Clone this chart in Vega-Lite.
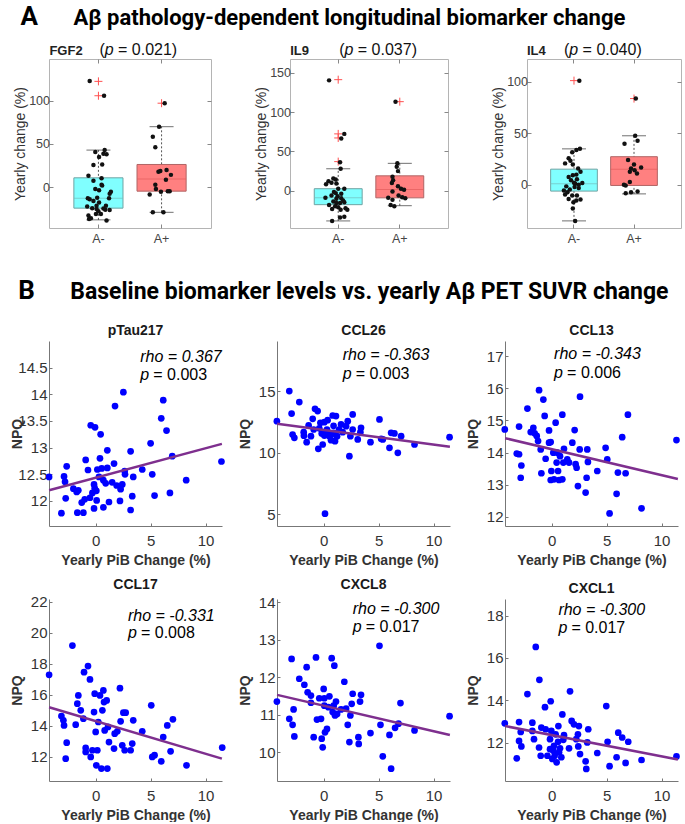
{
"$schema":"https://vega.github.io/schema/vega-lite/v6.json",
"padding":{"left":10,"top":4,"right":0,"bottom":0},
"background":"white",
"config":{"font":"Liberation Sans","view":{"stroke":null},"axis":{"grid":false,"labelFont":"Liberation Sans","titleFont":"Liberation Sans","labelOverlap":false}},
"datasets":{
"bstat":[
{"panel":"FGF2","g":"A-","lo":-37.6,"q1":-24.1,"med":-12.8,"q3":10.9,"hi":42.9},
{"panel":"FGF2","g":"A+","lo":-28.9,"q1":-4.5,"med":9.4,"q3":26.3,"hi":69.9},
{"panel":"IL9","g":"A-","lo":-38.4,"q1":-17.7,"med":-9,"q3":2.6,"hi":28},
{"panel":"IL9","g":"A+","lo":-19,"q1":-9,"med":1.7,"q3":19,"hi":34.9},
{"panel":"IL4","g":"A-","lo":-35.1,"q1":-6.2,"med":1,"q3":15.1,"hi":34.8},
{"panel":"IL4","g":"A+","lo":-8.9,"q1":-0.7,"med":15.1,"q3":27.2,"hi":47.5}],
"bout":[
{"panel":"FGF2","g":"A-","y":122.2},{"panel":"FGF2","g":"A-","y":105.6},{"panel":"FGF2","g":"A+","y":97},
{"panel":"IL9","g":"A-","y":141.4},{"panel":"IL9","g":"A-","y":72.4},{"panel":"IL9","g":"A-","y":67.2},{"panel":"IL9","g":"A-","y":37.1},{"panel":"IL9","g":"A+","y":113.4},
{"panel":"IL4","g":"A-","y":101},{"panel":"IL4","g":"A+","y":83.6}],
"blab":[{"panel":"FGF2","name":"FGF2","pv":"= 0.021)"},{"panel":"IL9","name":"IL9","pv":"= 0.037)"},{"panel":"IL4","name":"IL4","pv":"= 0.040)"}],
"bpts":[
{"panel":"FGF2","g":"A-","j":-0.14,"y":122.6},{"panel":"FGF2","g":"A-","j":0.09,"y":105.6},{"panel":"FGF2","g":"A-","j":0.1,"y":42.9},{"panel":"FGF2","g":"A-","j":-0.05,"y":40.6},{"panel":"FGF2","g":"A-","j":0.08,"y":38.7},{"panel":"FGF2","g":"A-","j":0.13,"y":38},{"panel":"FGF2","g":"A-","j":0.01,"y":35},{"panel":"FGF2","g":"A-","j":-0.08,"y":25.6},{"panel":"FGF2","g":"A-","j":0.06,"y":26.3},{"panel":"FGF2","g":"A-","j":-0.16,"y":13.2},{"panel":"FGF2","g":"A-","j":-0.08,"y":7.5},{"panel":"FGF2","g":"A-","j":0.05,"y":10.5},{"panel":"FGF2","g":"A-","j":0.05,"y":3},{"panel":"FGF2","g":"A-","j":0.06,"y":1.9},{"panel":"FGF2","g":"A-","j":0.2,"y":-5.3},{"panel":"FGF2","g":"A-","j":0.18,"y":-7.5},{"panel":"FGF2","g":"A-","j":-0.17,"y":-12.8},{"panel":"FGF2","g":"A-","j":-0.14,"y":-13.9},{"panel":"FGF2","g":"A-","j":-0.02,"y":-12},{"panel":"FGF2","g":"A-","j":-0.08,"y":-15.8},{"panel":"FGF2","g":"A-","j":0.01,"y":-17.7},{"panel":"FGF2","g":"A-","j":0.17,"y":-12.8},{"panel":"FGF2","g":"A-","j":-0.18,"y":-22.2},{"panel":"FGF2","g":"A-","j":-0.1,"y":-24.1},{"panel":"FGF2","g":"A-","j":-0.03,"y":-25.2},{"panel":"FGF2","g":"A-","j":0,"y":-27.8},{"panel":"FGF2","g":"A-","j":0.11,"y":-25.9},{"panel":"FGF2","g":"A-","j":0.18,"y":-26.3},{"panel":"FGF2","g":"A-","j":-0.04,"y":-30.8},{"panel":"FGF2","g":"A-","j":0.04,"y":-30.8},{"panel":"FGF2","g":"A-","j":-0.16,"y":-32.7},{"panel":"FGF2","g":"A-","j":-0.12,"y":-35.7},{"panel":"FGF2","g":"A-","j":-0.15,"y":-36.5},{"panel":"FGF2","g":"A-","j":0.13,"y":-38.3},{"panel":"FGF2","g":"A-","j":0.01,"y":-3.4},{"panel":"FGF2","g":"A-","j":-0.03,"y":-21.4},{"panel":"FGF2","g":"A-","j":0.08,"y":-24.4},{"panel":"FGF2","g":"A-","j":0.12,"y":-21.4},{"panel":"FGF2","g":"A-","j":-0.05,"y":-1.9},
{"panel":"FGF2","g":"A+","j":0.05,"y":97},{"panel":"FGF2","g":"A+","j":-0.04,"y":69.9},{"panel":"FGF2","g":"A+","j":-0.14,"y":58.3},{"panel":"FGF2","g":"A+","j":-0.1,"y":46.2},{"panel":"FGF2","g":"A+","j":-0.05,"y":18},{"panel":"FGF2","g":"A+","j":-0.02,"y":18.8},{"panel":"FGF2","g":"A+","j":0.08,"y":19.9},{"panel":"FGF2","g":"A+","j":0.15,"y":14.3},{"panel":"FGF2","g":"A+","j":0.07,"y":8.6},{"panel":"FGF2","g":"A+","j":-0.1,"y":3},{"panel":"FGF2","g":"A+","j":-0.09,"y":-1.9},{"panel":"FGF2","g":"A+","j":-0.01,"y":-5.3},{"panel":"FGF2","g":"A+","j":0.1,"y":-4.5},{"panel":"FGF2","g":"A+","j":0.13,"y":-4.5},{"panel":"FGF2","g":"A+","j":-0.19,"y":-8.3},{"panel":"FGF2","g":"A+","j":-0.14,"y":-28.9},{"panel":"FGF2","g":"A+","j":0.03,"y":-28.9},
{"panel":"IL9","g":"A-","j":-0.15,"y":140.5},{"panel":"IL9","g":"A-","j":0.1,"y":72.4},{"panel":"IL9","g":"A-","j":0.05,"y":66.4},{"panel":"IL9","g":"A-","j":0.03,"y":36.2},{"panel":"IL9","g":"A-","j":0.04,"y":28},{"panel":"IL9","g":"A-","j":-0.08,"y":15.5},{"panel":"IL9","g":"A-","j":-0.04,"y":14.2},{"panel":"IL9","g":"A-","j":-0.16,"y":12.1},{"panel":"IL9","g":"A-","j":-0.11,"y":10.3},{"panel":"IL9","g":"A-","j":-0.2,"y":8.2},{"panel":"IL9","g":"A-","j":-0.03,"y":9.1},{"panel":"IL9","g":"A-","j":0,"y":2.6},{"panel":"IL9","g":"A-","j":0.1,"y":2.6},{"panel":"IL9","g":"A-","j":-0.07,"y":-1.7},{"panel":"IL9","g":"A-","j":0.05,"y":-3.9},{"panel":"IL9","g":"A-","j":-0.21,"y":-9},{"panel":"IL9","g":"A-","j":-0.11,"y":-6},{"panel":"IL9","g":"A-","j":-0.01,"y":-6.9},{"panel":"IL9","g":"A-","j":0.05,"y":-9.5},{"panel":"IL9","g":"A-","j":0.08,"y":-12.5},{"panel":"IL9","g":"A-","j":-0.08,"y":-13.8},{"panel":"IL9","g":"A-","j":-0.03,"y":-15.5},{"panel":"IL9","g":"A-","j":0.03,"y":-15.5},{"panel":"IL9","g":"A-","j":0.1,"y":-14.7},{"panel":"IL9","g":"A-","j":-0.15,"y":-18.1},{"panel":"IL9","g":"A-","j":-0.05,"y":-19.8},{"panel":"IL9","g":"A-","j":0,"y":-21.1},{"panel":"IL9","g":"A-","j":0.12,"y":-22.4},{"panel":"IL9","g":"A-","j":-0.1,"y":-23.3},{"panel":"IL9","g":"A-","j":0.04,"y":-24.1},{"panel":"IL9","g":"A-","j":0.15,"y":-24.1},{"panel":"IL9","g":"A-","j":0.03,"y":-34.1},{"panel":"IL9","g":"A-","j":0.1,"y":-33.2},{"panel":"IL9","g":"A-","j":-0.1,"y":-38.4},{"panel":"IL9","g":"A-","j":-0.03,"y":-10.3},{"panel":"IL9","g":"A-","j":-0.04,"y":-3},
{"panel":"IL9","g":"A+","j":-0.07,"y":113.4},{"panel":"IL9","g":"A+","j":-0.04,"y":34.9},{"panel":"IL9","g":"A+","j":-0.05,"y":30.6},{"panel":"IL9","g":"A+","j":-0.03,"y":25},{"panel":"IL9","g":"A+","j":-0.12,"y":17.7},{"panel":"IL9","g":"A+","j":-0.11,"y":13.4},{"panel":"IL9","g":"A+","j":-0.13,"y":9.9},{"panel":"IL9","g":"A+","j":-0.03,"y":5.6},{"panel":"IL9","g":"A+","j":0.02,"y":2.6},{"panel":"IL9","g":"A+","j":-0.12,"y":-0.9},{"panel":"IL9","g":"A+","j":0.07,"y":1.3},{"panel":"IL9","g":"A+","j":-0.02,"y":-6},{"panel":"IL9","g":"A+","j":0.09,"y":-9.5},{"panel":"IL9","g":"A+","j":0.04,"y":-8.2},{"panel":"IL9","g":"A+","j":-0.19,"y":-9},{"panel":"IL9","g":"A+","j":-0.15,"y":-18.1},{"panel":"IL9","g":"A+","j":-0.09,"y":-19.8},{"panel":"IL9","g":"A+","j":-0.12,"y":-11.6},
{"panel":"IL4","g":"A-","j":0.09,"y":101},{"panel":"IL4","g":"A-","j":0.1,"y":34.8},{"panel":"IL4","g":"A-","j":0.04,"y":33.8},{"panel":"IL4","g":"A-","j":-0.03,"y":31.5},{"panel":"IL4","g":"A-","j":-0.09,"y":25.6},{"panel":"IL4","g":"A-","j":-0.06,"y":23.3},{"panel":"IL4","g":"A-","j":-0.15,"y":20.7},{"panel":"IL4","g":"A-","j":-0.02,"y":19.7},{"panel":"IL4","g":"A-","j":0.07,"y":15.7},{"panel":"IL4","g":"A-","j":0.11,"y":12.5},{"panel":"IL4","g":"A-","j":0.04,"y":9.8},{"panel":"IL4","g":"A-","j":-0.02,"y":9.2},{"panel":"IL4","g":"A-","j":-0.09,"y":7.5},{"panel":"IL4","g":"A-","j":-0.05,"y":4.3},{"panel":"IL4","g":"A-","j":0.05,"y":5.2},{"panel":"IL4","g":"A-","j":0,"y":2},{"panel":"IL4","g":"A-","j":0.02,"y":1},{"panel":"IL4","g":"A-","j":0.14,"y":1.6},{"panel":"IL4","g":"A-","j":0.08,"y":0},{"panel":"IL4","g":"A-","j":-0.13,"y":-1.6},{"panel":"IL4","g":"A-","j":0.01,"y":-2.3},{"panel":"IL4","g":"A-","j":0.08,"y":-3.3},{"panel":"IL4","g":"A-","j":-0.07,"y":-4.6},{"panel":"IL4","g":"A-","j":-0.17,"y":-5.6},{"panel":"IL4","g":"A-","j":-0.11,"y":-7.2},{"panel":"IL4","g":"A-","j":-0.15,"y":-9.5},{"panel":"IL4","g":"A-","j":-0.03,"y":-10.5},{"panel":"IL4","g":"A-","j":0.05,"y":-10.5},{"panel":"IL4","g":"A-","j":0.11,"y":-14.4},{"panel":"IL4","g":"A-","j":-0.09,"y":-13.8},{"panel":"IL4","g":"A-","j":-0.01,"y":-17},{"panel":"IL4","g":"A-","j":0.04,"y":-15.4},{"panel":"IL4","g":"A-","j":-0.02,"y":-23},{"panel":"IL4","g":"A-","j":0.02,"y":-35.1},
{"panel":"IL4","g":"A+","j":0.03,"y":83.6},{"panel":"IL4","g":"A+","j":0.02,"y":47.5},{"panel":"IL4","g":"A+","j":0.06,"y":42.6},{"panel":"IL4","g":"A+","j":-0.16,"y":39.7},{"panel":"IL4","g":"A+","j":-0.1,"y":23.9},{"panel":"IL4","g":"A+","j":0,"y":19.7},{"panel":"IL4","g":"A+","j":-0.05,"y":15.7},{"panel":"IL4","g":"A+","j":0.01,"y":14.1},{"panel":"IL4","g":"A+","j":0.12,"y":16.7},{"panel":"IL4","g":"A+","j":-0.07,"y":12.5},{"panel":"IL4","g":"A+","j":0.05,"y":10.8},{"panel":"IL4","g":"A+","j":-0.07,"y":2.6},{"panel":"IL4","g":"A+","j":-0.17,"y":0},{"panel":"IL4","g":"A+","j":-0.14,"y":-0.7},{"panel":"IL4","g":"A+","j":-0.05,"y":-7.2},{"panel":"IL4","g":"A+","j":0.06,"y":-6.6},{"panel":"IL4","g":"A+","j":-0.14,"y":-8.2}],
"fit":[
{"p":"pTau217","x":-4.24,"y":12.2},{"p":"pTau217","x":11.49,"y":13.07},
{"p":"CCL26","x":-4.24,"y":12.36},{"p":"CCL26","x":11.49,"y":10.49},
{"p":"CCL13","x":-4.24,"y":14.45},{"p":"CCL13","x":11.49,"y":13.18},
{"p":"CCL17","x":-4.24,"y":15.2},{"p":"CCL17","x":11.49,"y":11.89},
{"p":"CXCL8","x":-4.24,"y":11.53},{"p":"CXCL8","x":11.49,"y":10.46},
{"p":"CXCL1","x":-4.24,"y":12.79},{"p":"CXCL1","x":11.49,"y":11.21}],
"st":[
{"p":"pTau217","rho":"rho = 0.367","pv":"= 0.003"},
{"p":"CCL26","rho":"rho = -0.363","pv":"= 0.003"},
{"p":"CCL13","rho":"rho = -0.343","pv":"= 0.006"},
{"p":"CCL17","rho":"rho = -0.331","pv":"= 0.008"},
{"p":"CXCL8","rho":"rho = -0.300","pv":"= 0.017"},
{"p":"CXCL1","rho":"rho = -0.300","pv":"= 0.017"}],
"sc":[
{"p":"pTau217","x":-4.24,"y":12.45},{"p":"pTau217","x":-3.12,"y":11.77},{"p":"pTau217","x":-2.88,"y":12.46},{"p":"pTau217","x":-2.79,"y":12.36},{"p":"pTau217","x":-2.64,"y":12.65},{"p":"pTau217","x":-2.73,"y":12.05},{"p":"pTau217","x":-2.03,"y":12.23},{"p":"pTau217","x":-1.73,"y":12.17},{"p":"pTau217","x":-1.67,"y":11.78},{"p":"pTau217","x":-1.58,"y":12.2},{"p":"pTau217","x":-1.27,"y":11.97},{"p":"pTau217","x":-1.12,"y":11.78},{"p":"pTau217","x":-0.91,"y":12.77},{"p":"pTau217","x":-1,"y":12.03},{"p":"pTau217","x":-0.7,"y":12.58},{"p":"pTau217","x":-0.52,"y":12.06},{"p":"pTau217","x":-0.45,"y":13.42},{"p":"pTau217","x":-0.06,"y":13.38},{"p":"pTau217","x":-0.15,"y":12.31},{"p":"pTau217","x":-0.09,"y":12.24},{"p":"pTau217","x":-0.15,"y":11.86},{"p":"pTau217","x":0.06,"y":12.19},{"p":"pTau217","x":0.09,"y":12.01},{"p":"pTau217","x":0.15,"y":12.59},{"p":"pTau217","x":0.45,"y":13.25},{"p":"pTau217","x":0.39,"y":12.8},{"p":"pTau217","x":0.55,"y":12.61},{"p":"pTau217","x":0.7,"y":11.88},{"p":"pTau217","x":0.91,"y":12.33},{"p":"pTau217","x":1.06,"y":12.95},{"p":"pTau217","x":1.06,"y":12.62},{"p":"pTau217","x":1.21,"y":11.98},{"p":"pTau217","x":1.67,"y":12.7},{"p":"pTau217","x":1.76,"y":13.78},{"p":"pTau217","x":1.91,"y":12.29},{"p":"pTau217","x":2.21,"y":12},{"p":"pTau217","x":2.27,"y":12.22},{"p":"pTau217","x":2.42,"y":12.31},{"p":"pTau217","x":2.52,"y":14.04},{"p":"pTau217","x":2.64,"y":12.56},{"p":"pTau217","x":2.67,"y":12.5},{"p":"pTau217","x":3.18,"y":12.93},{"p":"pTau217","x":3.18,"y":11.83},{"p":"pTau217","x":3.33,"y":12.09},{"p":"pTau217","x":3.42,"y":12.45},{"p":"pTau217","x":4.24,"y":12.59},{"p":"pTau217","x":5,"y":13.08},{"p":"pTau217","x":5.15,"y":12.5},{"p":"pTau217","x":5.36,"y":12.1},{"p":"pTau217","x":5.97,"y":13.55},{"p":"pTau217","x":6.15,"y":13.89},{"p":"pTau217","x":6.45,"y":13.32},{"p":"pTau217","x":6.76,"y":12.15},{"p":"pTau217","x":6.97,"y":12.84},{"p":"pTau217","x":8.24,"y":12.39},{"p":"pTau217","x":11.45,"y":12.74},{"p":"pTau217","x":0.7,"y":12.39},{"p":"pTau217","x":0.3,"y":12.45},{"p":"pTau217","x":-0.3,"y":12.15},{"p":"pTau217","x":1.5,"y":12.35},
{"p":"CCL26","x":-4.26,"y":12.58},{"p":"CCL26","x":-3.13,"y":15.03},{"p":"CCL26","x":-2.92,"y":13.2},{"p":"CCL26","x":-2.83,"y":11.49},{"p":"CCL26","x":-2.67,"y":11.22},{"p":"CCL26","x":-2.22,"y":14.13},{"p":"CCL26","x":-1.82,"y":11.68},{"p":"CCL26","x":-1.55,"y":10.87},{"p":"CCL26","x":-1.37,"y":12.23},{"p":"CCL26","x":-1.16,"y":11.36},{"p":"CCL26","x":-1,"y":12.77},{"p":"CCL26","x":-0.91,"y":11.9},{"p":"CCL26","x":-0.79,"y":13.59},{"p":"CCL26","x":-0.55,"y":13.4},{"p":"CCL26","x":-0.49,"y":10.33},{"p":"CCL26","x":-0.3,"y":12.45},{"p":"CCL26","x":-0.18,"y":11.58},{"p":"CCL26","x":-0.09,"y":10.68},{"p":"CCL26","x":0.06,"y":12.5},{"p":"CCL26","x":0.06,"y":11.41},{"p":"CCL26","x":0.12,"y":5.05},{"p":"CCL26","x":0.3,"y":11.9},{"p":"CCL26","x":0.36,"y":12.66},{"p":"CCL26","x":0.52,"y":11.36},{"p":"CCL26","x":0.67,"y":11.03},{"p":"CCL26","x":0.82,"y":13.04},{"p":"CCL26","x":0.91,"y":11.63},{"p":"CCL26","x":1.03,"y":10.95},{"p":"CCL26","x":1.12,"y":12.99},{"p":"CCL26","x":1.22,"y":11.36},{"p":"CCL26","x":1.58,"y":12.31},{"p":"CCL26","x":1.73,"y":11.68},{"p":"CCL26","x":2.04,"y":12.17},{"p":"CCL26","x":2.19,"y":12.58},{"p":"CCL26","x":2.34,"y":9.73},{"p":"CCL26","x":2.43,"y":11.36},{"p":"CCL26","x":2.64,"y":13.13},{"p":"CCL26","x":2.64,"y":11.9},{"p":"CCL26","x":3.1,"y":11.09},{"p":"CCL26","x":3.34,"y":11.68},{"p":"CCL26","x":3.4,"y":12.04},{"p":"CCL26","x":4.26,"y":10.87},{"p":"CCL26","x":5.08,"y":12.72},{"p":"CCL26","x":5.23,"y":11.14},{"p":"CCL26","x":5.38,"y":11.09},{"p":"CCL26","x":5.99,"y":10.41},{"p":"CCL26","x":6.14,"y":11.63},{"p":"CCL26","x":6.44,"y":11.58},{"p":"CCL26","x":6.75,"y":10},{"p":"CCL26","x":7.05,"y":11.36},{"p":"CCL26","x":8.27,"y":10.68},{"p":"CCL26","x":11.46,"y":11.28},{"p":"CCL26","x":0.7,"y":11.5},{"p":"CCL26","x":0.2,"y":11.7},{"p":"CCL26","x":-0.4,"y":12},{"p":"CCL26","x":1.4,"y":11.9},{"p":"CCL26","x":0.9,"y":12.2},{"p":"CCL26","x":-1.8,"y":11.4},
{"p":"CCL13","x":-4.27,"y":14.72},{"p":"CCL13","x":-3.18,"y":13.97},{"p":"CCL13","x":-2.97,"y":13.95},{"p":"CCL13","x":-2.97,"y":14.81},{"p":"CCL13","x":-2.76,"y":13.6},{"p":"CCL13","x":-2.82,"y":13.22},{"p":"CCL13","x":-2.21,"y":15.37},{"p":"CCL13","x":-1.91,"y":14.64},{"p":"CCL13","x":-1.67,"y":14.77},{"p":"CCL13","x":-1.55,"y":14.6},{"p":"CCL13","x":-1.36,"y":14.52},{"p":"CCL13","x":-1.15,"y":15.94},{"p":"CCL13","x":-1.24,"y":14.36},{"p":"CCL13","x":-1,"y":14.1},{"p":"CCL13","x":-0.94,"y":13.36},{"p":"CCL13","x":-0.76,"y":15.65},{"p":"CCL13","x":-0.64,"y":15.14},{"p":"CCL13","x":-0.55,"y":13.81},{"p":"CCL13","x":-0.24,"y":14.69},{"p":"CCL13","x":-0.24,"y":14.31},{"p":"CCL13","x":-0.09,"y":14.33},{"p":"CCL13","x":-0.03,"y":13.43},{"p":"CCL13","x":-0.09,"y":13.15},{"p":"CCL13","x":0.15,"y":14},{"p":"CCL13","x":0.21,"y":13.17},{"p":"CCL13","x":0.36,"y":14.93},{"p":"CCL13","x":0.45,"y":13.69},{"p":"CCL13","x":0.52,"y":14},{"p":"CCL13","x":0.58,"y":13.43},{"p":"CCL13","x":0.67,"y":13.15},{"p":"CCL13","x":0.76,"y":13.89},{"p":"CCL13","x":0.97,"y":15.18},{"p":"CCL13","x":1.06,"y":13.69},{"p":"CCL13","x":1.12,"y":14.12},{"p":"CCL13","x":0.97,"y":13.17},{"p":"CCL13","x":1.42,"y":13.79},{"p":"CCL13","x":1.58,"y":13.69},{"p":"CCL13","x":1.88,"y":14.31},{"p":"CCL13","x":2.09,"y":14.7},{"p":"CCL13","x":2.18,"y":13.64},{"p":"CCL13","x":2.27,"y":13.53},{"p":"CCL13","x":2.39,"y":12.96},{"p":"CCL13","x":2.55,"y":14.1},{"p":"CCL13","x":2.58,"y":15.74},{"p":"CCL13","x":3.09,"y":12.76},{"p":"CCL13","x":3.18,"y":13.22},{"p":"CCL13","x":3.24,"y":14.1},{"p":"CCL13","x":3.3,"y":13.71},{"p":"CCL13","x":4.15,"y":13.43},{"p":"CCL13","x":4.91,"y":14.15},{"p":"CCL13","x":5.06,"y":13.79},{"p":"CCL13","x":5.27,"y":12.11},{"p":"CCL13","x":5.91,"y":12.72},{"p":"CCL13","x":6.03,"y":13.38},{"p":"CCL13","x":6.42,"y":14.48},{"p":"CCL13","x":6.73,"y":13.36},{"p":"CCL13","x":6.94,"y":15.18},{"p":"CCL13","x":8.18,"y":12.27},{"p":"CCL13","x":11.36,"y":14.39},
{"p":"CCL17","x":-4.24,"y":17.29},{"p":"CCL17","x":-3.12,"y":14.63},{"p":"CCL17","x":-2.94,"y":14.36},{"p":"CCL17","x":-2.88,"y":14.03},{"p":"CCL17","x":-2.64,"y":12.92},{"p":"CCL17","x":-2.73,"y":11.89},{"p":"CCL17","x":-2.12,"y":19.17},{"p":"CCL17","x":-1.82,"y":14.08},{"p":"CCL17","x":-1.67,"y":15.43},{"p":"CCL17","x":-1.58,"y":15.96},{"p":"CCL17","x":-1.36,"y":15},{"p":"CCL17","x":-1.12,"y":14.46},{"p":"CCL17","x":-1.06,"y":17.46},{"p":"CCL17","x":-0.91,"y":12.58},{"p":"CCL17","x":-0.91,"y":12.32},{"p":"CCL17","x":-0.7,"y":17.85},{"p":"CCL17","x":-0.52,"y":16.99},{"p":"CCL17","x":-0.45,"y":12},{"p":"CCL17","x":-0.3,"y":12.43},{"p":"CCL17","x":-0.15,"y":14.89},{"p":"CCL17","x":-0.09,"y":16.07},{"p":"CCL17","x":0,"y":13.61},{"p":"CCL17","x":0.06,"y":11.46},{"p":"CCL17","x":0.15,"y":12.43},{"p":"CCL17","x":0.24,"y":14.25},{"p":"CCL17","x":0.39,"y":15.96},{"p":"CCL17","x":0.52,"y":11.25},{"p":"CCL17","x":0.61,"y":15},{"p":"CCL17","x":0.7,"y":16.28},{"p":"CCL17","x":0.76,"y":15.53},{"p":"CCL17","x":0.82,"y":13.71},{"p":"CCL17","x":1,"y":15.64},{"p":"CCL17","x":1.06,"y":11.25},{"p":"CCL17","x":1.12,"y":13.93},{"p":"CCL17","x":1.21,"y":12.96},{"p":"CCL17","x":1.67,"y":12.54},{"p":"CCL17","x":1.73,"y":13.5},{"p":"CCL17","x":1.97,"y":13.65},{"p":"CCL17","x":2.21,"y":16.43},{"p":"CCL17","x":2.27,"y":14.29},{"p":"CCL17","x":2.42,"y":12.75},{"p":"CCL17","x":2.52,"y":14.85},{"p":"CCL17","x":2.73,"y":14.85},{"p":"CCL17","x":2.64,"y":12.43},{"p":"CCL17","x":3.18,"y":12.43},{"p":"CCL17","x":3.33,"y":12.86},{"p":"CCL17","x":3.42,"y":14.36},{"p":"CCL17","x":4.24,"y":13.65},{"p":"CCL17","x":5.06,"y":15.32},{"p":"CCL17","x":5.15,"y":12},{"p":"CCL17","x":5.36,"y":12.11},{"p":"CCL17","x":5.97,"y":11.72},{"p":"CCL17","x":6.15,"y":13.28},{"p":"CCL17","x":6.52,"y":14.03},{"p":"CCL17","x":6.82,"y":12.36},{"p":"CCL17","x":7.03,"y":14.42},{"p":"CCL17","x":8.27,"y":11.46},{"p":"CCL17","x":11.52,"y":12.6},
{"p":"CXCL8","x":-4.26,"y":11.35},{"p":"CXCL8","x":-3.13,"y":10.89},{"p":"CXCL8","x":-2.92,"y":12.49},{"p":"CXCL8","x":-2.83,"y":10.73},{"p":"CXCL8","x":-2.74,"y":11.14},{"p":"CXCL8","x":-2.67,"y":10.42},{"p":"CXCL8","x":-2.22,"y":11.96},{"p":"CXCL8","x":-1.76,"y":11.8},{"p":"CXCL8","x":-1.55,"y":12.27},{"p":"CXCL8","x":-1.46,"y":11.6},{"p":"CXCL8","x":-1.16,"y":11.51},{"p":"CXCL8","x":-1.16,"y":11.32},{"p":"CXCL8","x":-0.91,"y":10.4},{"p":"CXCL8","x":-0.7,"y":12.53},{"p":"CXCL8","x":-0.61,"y":10.87},{"p":"CXCL8","x":-0.4,"y":11.44},{"p":"CXCL8","x":-0.24,"y":10.89},{"p":"CXCL8","x":-0.18,"y":10.36},{"p":"CXCL8","x":-0.09,"y":10.13},{"p":"CXCL8","x":0,"y":11.69},{"p":"CXCL8","x":0.06,"y":11.44},{"p":"CXCL8","x":0.06,"y":11.24},{"p":"CXCL8","x":0.12,"y":10.53},{"p":"CXCL8","x":0.3,"y":10.62},{"p":"CXCL8","x":0.43,"y":11.2},{"p":"CXCL8","x":0.52,"y":11.49},{"p":"CXCL8","x":0.73,"y":12.51},{"p":"CXCL8","x":0.82,"y":11.07},{"p":"CXCL8","x":0.91,"y":11.24},{"p":"CXCL8","x":0.97,"y":12.31},{"p":"CXCL8","x":1.03,"y":10.98},{"p":"CXCL8","x":1.12,"y":11.35},{"p":"CXCL8","x":1.22,"y":11.02},{"p":"CXCL8","x":1.58,"y":11.14},{"p":"CXCL8","x":1.88,"y":11.88},{"p":"CXCL8","x":2.04,"y":11.16},{"p":"CXCL8","x":2.19,"y":10.73},{"p":"CXCL8","x":2.34,"y":10.27},{"p":"CXCL8","x":2.43,"y":10.98},{"p":"CXCL8","x":2.55,"y":11.29},{"p":"CXCL8","x":2.64,"y":11.56},{"p":"CXCL8","x":3.16,"y":10.4},{"p":"CXCL8","x":3.19,"y":10.22},{"p":"CXCL8","x":3.31,"y":11.35},{"p":"CXCL8","x":3.4,"y":11.53},{"p":"CXCL8","x":4.26,"y":10.51},{"p":"CXCL8","x":5.08,"y":12.84},{"p":"CXCL8","x":5.17,"y":10.73},{"p":"CXCL8","x":5.38,"y":9.89},{"p":"CXCL8","x":5.99,"y":10.46},{"p":"CXCL8","x":6.14,"y":9.56},{"p":"CXCL8","x":6.5,"y":10.65},{"p":"CXCL8","x":6.81,"y":10.76},{"p":"CXCL8","x":6.99,"y":11.31},{"p":"CXCL8","x":8.27,"y":10.58},{"p":"CXCL8","x":11.46,"y":10.96},
{"p":"CXCL1","x":-4.27,"y":12.92},{"p":"CXCL1","x":-3.18,"y":11.27},{"p":"CXCL1","x":-2.97,"y":12.98},{"p":"CXCL1","x":-2.97,"y":12.09},{"p":"CXCL1","x":-2.82,"y":12.51},{"p":"CXCL1","x":-2.76,"y":11.83},{"p":"CXCL1","x":-2.21,"y":14.3},{"p":"CXCL1","x":-1.76,"y":12.95},{"p":"CXCL1","x":-1.76,"y":12.56},{"p":"CXCL1","x":-1.61,"y":12.17},{"p":"CXCL1","x":-1.45,"y":16.52},{"p":"CXCL1","x":-1.15,"y":11.78},{"p":"CXCL1","x":-1.12,"y":14.97},{"p":"CXCL1","x":-1,"y":11.39},{"p":"CXCL1","x":-0.94,"y":12.72},{"p":"CXCL1","x":-0.61,"y":13.68},{"p":"CXCL1","x":-0.55,"y":12.64},{"p":"CXCL1","x":-0.39,"y":11.39},{"p":"CXCL1","x":-0.09,"y":13.96},{"p":"CXCL1","x":-0.15,"y":12.17},{"p":"CXCL1","x":-0.03,"y":12.56},{"p":"CXCL1","x":-0.15,"y":11.7},{"p":"CXCL1","x":0.06,"y":11.24},{"p":"CXCL1","x":0.15,"y":11.63},{"p":"CXCL1","x":0.21,"y":11.86},{"p":"CXCL1","x":0.27,"y":11.39},{"p":"CXCL1","x":0.36,"y":12.4},{"p":"CXCL1","x":0.45,"y":11.08},{"p":"CXCL1","x":0.58,"y":12.05},{"p":"CXCL1","x":0.61,"y":12.79},{"p":"CXCL1","x":0.67,"y":11.55},{"p":"CXCL1","x":0.76,"y":11.74},{"p":"CXCL1","x":0.88,"y":11.32},{"p":"CXCL1","x":0.97,"y":13.34},{"p":"CXCL1","x":1.06,"y":12.14},{"p":"CXCL1","x":1.12,"y":12.36},{"p":"CXCL1","x":1.58,"y":11.74},{"p":"CXCL1","x":1.67,"y":14.43},{"p":"CXCL1","x":1.82,"y":13.03},{"p":"CXCL1","x":2.03,"y":12.87},{"p":"CXCL1","x":2.24,"y":12.17},{"p":"CXCL1","x":2.39,"y":12.4},{"p":"CXCL1","x":2.42,"y":11.83},{"p":"CXCL1","x":2.58,"y":11.47},{"p":"CXCL1","x":3.09,"y":11.13},{"p":"CXCL1","x":3.15,"y":10.77},{"p":"CXCL1","x":3.24,"y":12.02},{"p":"CXCL1","x":3.33,"y":12.64},{"p":"CXCL1","x":4.15,"y":11.52},{"p":"CXCL1","x":4.97,"y":13.73},{"p":"CXCL1","x":5.09,"y":12.05},{"p":"CXCL1","x":5.27,"y":10.9},{"p":"CXCL1","x":5.91,"y":11.32},{"p":"CXCL1","x":6.06,"y":12.48},{"p":"CXCL1","x":6.42,"y":12.25},{"p":"CXCL1","x":6.73,"y":11.05},{"p":"CXCL1","x":6.97,"y":12.05},{"p":"CXCL1","x":8.18,"y":11.19},{"p":"CXCL1","x":11.36,"y":11.36},{"p":"CXCL1","x":2.48,"y":12.79}]
},
"vconcat":[
{"title":{"text":"A","anchor":"start","font":"Roboto","fontSize":26,"fontWeight":"bold","color":"black","offset":0,"dx":8,"dy":22.8},
 "vconcat":[
{"title":{"text":"Aβ pathology-dependent longitudinal biomarker change","anchor":"start","font":"Roboto","fontSize":22,"fontWeight":"bold","color":"black","offset":11,"dx":61},
 "spacing":79,"bounds":"flush",
 "hconcat":[
 {"width":162,"height":169,"view":{"stroke":"#b4b4b4"},"resolve":{"axis":{"x":"independent","y":"independent"},"scale":{"xOffset":"independent"}},
  "layer":[
   {"data":{"name":"bstat"},"transform":[{"filter":"datum.panel==='FGF2'"}],"mark":{"type":"rule","strokeDash":[2,2],"color":"#555","strokeWidth":1},
    "encoding":{"x":{"field":"g","type":"nominal","scale":{"type":"band","domain":["A-","A+"],"paddingInner":0.222,"paddingOuter":0.394},"axis":{"orient":"top","labels":false,"title":null,"domain":false,"tickSize":-4,"tickColor":"#888"}},
     "y":{"field":"lo","type":"quantitative","scale":{"domain":[-47,148],"nice":false,"zero":false},"axis":{"orient":"right","labels":false,"title":null,"domain":false,"tickSize":-4,"tickColor":"#888","values":[0,50,100],"tickCount":12}},"y2":{"field":"hi"}}},
   {"data":{"name":"bstat"},"transform":[{"filter":"datum.panel==='FGF2'"}],"mark":{"type":"bar","strokeWidth":1},
    "encoding":{"x":{"field":"g","type":"nominal","axis":{"orient":"bottom","title":null,"labelAngle":0,"domain":false,"tickSize":-4,"tickColor":"#888","labelPadding":8,"labelFontSize":12.5,"labelColor":"#444"}},
     "y":{"field":"q1","type":"quantitative","axis":{"orient":"left","values":[0,50,100],"tickCount":12,"format":"d","labelOverlap":false,"title":"Yearly change (%)","titleFontSize":14,"titleFontWeight":"normal","titleColor":"#333","titlePadding":1.6,"domain":false,"tickSize":-4,"tickColor":"#888","labelPadding":3.5,"labelFontSize":12.5,"labelColor":"#444"}},
     "y2":{"field":"q3"},
     "fill":{"condition":{"test":"datum.g==='A-'","value":"#80ffff"},"value":"#ff8080"},
     "stroke":{"condition":{"test":"datum.g==='A-'","value":"#6fa3a3"},"value":"#b06464"}}},
   {"data":{"name":"bstat"},"transform":[{"filter":"datum.panel==='FGF2'"}],"mark":{"type":"tick","orient":"horizontal","size":49,"thickness":1},
    "encoding":{"x":{"field":"g","type":"nominal","axis":null},"y":{"field":"med","type":"quantitative","axis":null},"color":{"condition":{"test":"datum.g==='A-'","value":"#74bcbc"},"value":"#e35d5d"}}},
   {"data":{"name":"bstat"},"transform":[{"filter":"datum.panel==='FGF2'"}],"mark":{"type":"tick","orient":"horizontal","size":24,"thickness":1,"color":"#333"},
    "encoding":{"x":{"field":"g","type":"nominal","axis":null},"y":{"field":"lo","type":"quantitative","axis":null}}},
   {"data":{"name":"bstat"},"transform":[{"filter":"datum.panel==='FGF2'"}],"mark":{"type":"tick","orient":"horizontal","size":24,"thickness":1,"color":"#333"},
    "encoding":{"x":{"field":"g","type":"nominal","axis":null},"y":{"field":"hi","type":"quantitative","axis":null}}},
   {"data":{"name":"bout"},"transform":[{"filter":"datum.panel==='FGF2'"}],"mark":{"type":"point","shape":"M-1,0L1,0M0,-1L0,1","filled":false,"stroke":"#ff5050","strokeWidth":1,"size":64,"opacity":1},
    "encoding":{"x":{"field":"g","type":"nominal","axis":null},"y":{"field":"y","type":"quantitative","axis":null}}},
   {"data":{"name":"bpts"},"transform":[{"filter":"datum.panel==='FGF2'"}],"mark":{"type":"circle","color":"#111","size":20,"opacity":1},
    "encoding":{"x":{"field":"g","type":"nominal","axis":null},"xOffset":{"field":"j","type":"quantitative","scale":{"domain":[-0.3935,0.3935],"nice":false,"zero":false}},"y":{"field":"y","type":"quantitative","axis":null}}},
   {"data":{"name":"blab"},"transform":[{"filter":"datum.panel==='FGF2'"}],"mark":{"type":"text","align":"left","baseline":"alphabetic","fontSize":13,"fontWeight":"bold","color":"#222","dx":-49},
    "encoding":{"x":{"datum":"A-","type":"nominal","axis":null},"y":{"datum":152.6,"type":"quantitative","axis":null},"text":{"field":"name"}}},
   {"data":{"name":"blab"},"transform":[{"filter":"datum.panel==='FGF2'"}],"mark":{"type":"text","align":"left","baseline":"alphabetic","fontSize":16,"color":"#111","dx":1},
    "encoding":{"x":{"datum":"A-","type":"nominal","axis":null},"y":{"datum":152.6,"type":"quantitative","axis":null},"text":{"value":"("}}},
   {"data":{"name":"blab"},"transform":[{"filter":"datum.panel==='FGF2'"}],"mark":{"type":"text","align":"left","baseline":"alphabetic","fontSize":16,"fontStyle":"italic","color":"#111","dx":6.3},
    "encoding":{"x":{"datum":"A-","type":"nominal","axis":null},"y":{"datum":152.6,"type":"quantitative","axis":null},"text":{"value":"p"}}},
   {"data":{"name":"blab"},"transform":[{"filter":"datum.panel==='FGF2'"}],"mark":{"type":"text","align":"left","baseline":"alphabetic","fontSize":16,"color":"#111","dx":19.6},
    "encoding":{"x":{"datum":"A-","type":"nominal","axis":null},"y":{"datum":152.6,"type":"quantitative","axis":null},"text":{"field":"pv"}}}
  ]},
 {"width":158,"height":169,"view":{"stroke":"#b4b4b4"},"resolve":{"axis":{"x":"independent","y":"independent"},"scale":{"xOffset":"independent"}},
  "layer":[
   {"data":{"name":"bstat"},"transform":[{"filter":"datum.panel==='IL9'"}],"mark":{"type":"rule","strokeDash":[2,2],"color":"#555","strokeWidth":1},
    "encoding":{"x":{"field":"g","type":"nominal","scale":{"type":"band","domain":["A-","A+"],"paddingInner":0.222,"paddingOuter":0.394},"axis":{"orient":"top","labels":false,"title":null,"domain":false,"tickSize":-4,"tickColor":"#888"}},
     "y":{"field":"lo","type":"quantitative","scale":{"domain":[-47.4,167.7],"nice":false,"zero":false},"axis":{"orient":"right","labels":false,"title":null,"domain":false,"tickSize":-4,"tickColor":"#888","values":[0,50,100,150],"tickCount":12}},"y2":{"field":"hi"}}},
   {"data":{"name":"bstat"},"transform":[{"filter":"datum.panel==='IL9'"}],"mark":{"type":"bar","strokeWidth":1},
    "encoding":{"x":{"field":"g","type":"nominal","axis":{"orient":"bottom","title":null,"labelAngle":0,"domain":false,"tickSize":-4,"tickColor":"#888","labelPadding":8,"labelFontSize":12.5,"labelColor":"#444"}},
     "y":{"field":"q1","type":"quantitative","axis":{"orient":"left","values":[0,50,100,150],"tickCount":12,"format":"d","labelOverlap":false,"title":"Yearly change (%)","titleFontSize":14,"titleFontWeight":"normal","titleColor":"#333","titlePadding":1.6,"domain":false,"tickSize":-4,"tickColor":"#888","labelPadding":3.5,"labelFontSize":12.5,"labelColor":"#444"}},
     "y2":{"field":"q3"},
     "fill":{"condition":{"test":"datum.g==='A-'","value":"#80ffff"},"value":"#ff8080"},
     "stroke":{"condition":{"test":"datum.g==='A-'","value":"#6fa3a3"},"value":"#b06464"}}},
   {"data":{"name":"bstat"},"transform":[{"filter":"datum.panel==='IL9'"}],"mark":{"type":"tick","orient":"horizontal","size":48,"thickness":1},
    "encoding":{"x":{"field":"g","type":"nominal","axis":null},"y":{"field":"med","type":"quantitative","axis":null},"color":{"condition":{"test":"datum.g==='A-'","value":"#74bcbc"},"value":"#e35d5d"}}},
   {"data":{"name":"bstat"},"transform":[{"filter":"datum.panel==='IL9'"}],"mark":{"type":"tick","orient":"horizontal","size":24,"thickness":1,"color":"#333"},
    "encoding":{"x":{"field":"g","type":"nominal","axis":null},"y":{"field":"lo","type":"quantitative","axis":null}}},
   {"data":{"name":"bstat"},"transform":[{"filter":"datum.panel==='IL9'"}],"mark":{"type":"tick","orient":"horizontal","size":24,"thickness":1,"color":"#333"},
    "encoding":{"x":{"field":"g","type":"nominal","axis":null},"y":{"field":"hi","type":"quantitative","axis":null}}},
   {"data":{"name":"bout"},"transform":[{"filter":"datum.panel==='IL9'"}],"mark":{"type":"point","shape":"M-1,0L1,0M0,-1L0,1","filled":false,"stroke":"#ff5050","strokeWidth":1,"size":64,"opacity":1},
    "encoding":{"x":{"field":"g","type":"nominal","axis":null},"y":{"field":"y","type":"quantitative","axis":null}}},
   {"data":{"name":"bpts"},"transform":[{"filter":"datum.panel==='IL9'"}],"mark":{"type":"circle","color":"#111","size":20,"opacity":1},
    "encoding":{"x":{"field":"g","type":"nominal","axis":null},"xOffset":{"field":"j","type":"quantitative","scale":{"domain":[-0.3935,0.3935],"nice":false,"zero":false}},"y":{"field":"y","type":"quantitative","axis":null}}},
   {"data":{"name":"blab"},"transform":[{"filter":"datum.panel==='IL9'"}],"mark":{"type":"text","align":"left","baseline":"alphabetic","fontSize":13,"fontWeight":"bold","color":"#222","dx":-48},
    "encoding":{"x":{"datum":"A-","type":"nominal","axis":null},"y":{"datum":172.8,"type":"quantitative","axis":null},"text":{"field":"name"}}},
   {"data":{"name":"blab"},"transform":[{"filter":"datum.panel==='IL9'"}],"mark":{"type":"text","align":"left","baseline":"alphabetic","fontSize":16,"color":"#111","dx":1},
    "encoding":{"x":{"datum":"A-","type":"nominal","axis":null},"y":{"datum":172.8,"type":"quantitative","axis":null},"text":{"value":"("}}},
   {"data":{"name":"blab"},"transform":[{"filter":"datum.panel==='IL9'"}],"mark":{"type":"text","align":"left","baseline":"alphabetic","fontSize":16,"fontStyle":"italic","color":"#111","dx":6.3},
    "encoding":{"x":{"datum":"A-","type":"nominal","axis":null},"y":{"datum":172.8,"type":"quantitative","axis":null},"text":{"value":"p"}}},
   {"data":{"name":"blab"},"transform":[{"filter":"datum.panel==='IL9'"}],"mark":{"type":"text","align":"left","baseline":"alphabetic","fontSize":16,"color":"#111","dx":19.6},
    "encoding":{"x":{"datum":"A-","type":"nominal","axis":null},"y":{"datum":172.8,"type":"quantitative","axis":null},"text":{"field":"pv"}}}
  ]},
 {"width":154,"height":169,"view":{"stroke":"#b4b4b4"},"resolve":{"axis":{"x":"independent","y":"independent"},"scale":{"xOffset":"independent"}},
  "layer":[
   {"data":{"name":"bstat"},"transform":[{"filter":"datum.panel==='IL4'"}],"mark":{"type":"rule","strokeDash":[2,2],"color":"#555","strokeWidth":1},
    "encoding":{"x":{"field":"g","type":"nominal","scale":{"type":"band","domain":["A-","A+"],"paddingInner":0.222,"paddingOuter":0.394},"axis":{"orient":"top","labels":false,"title":null,"domain":false,"tickSize":-4,"tickColor":"#888"}},
     "y":{"field":"lo","type":"quantitative","scale":{"domain":[-42,122],"nice":false,"zero":false},"axis":{"orient":"right","labels":false,"title":null,"domain":false,"tickSize":-4,"tickColor":"#888","values":[0,50,100],"tickCount":12}},"y2":{"field":"hi"}}},
   {"data":{"name":"bstat"},"transform":[{"filter":"datum.panel==='IL4'"}],"mark":{"type":"bar","strokeWidth":1},
    "encoding":{"x":{"field":"g","type":"nominal","axis":{"orient":"bottom","title":null,"labelAngle":0,"domain":false,"tickSize":-4,"tickColor":"#888","labelPadding":8,"labelFontSize":12.5,"labelColor":"#444"}},
     "y":{"field":"q1","type":"quantitative","axis":{"orient":"left","values":[0,50,100],"tickCount":12,"format":"d","labelOverlap":false,"title":"Yearly change (%)","titleFontSize":14,"titleFontWeight":"normal","titleColor":"#333","titlePadding":1.6,"domain":false,"tickSize":-4,"tickColor":"#888","labelPadding":3.5,"labelFontSize":12.5,"labelColor":"#444"}},
     "y2":{"field":"q3"},
     "fill":{"condition":{"test":"datum.g==='A-'","value":"#80ffff"},"value":"#ff8080"},
     "stroke":{"condition":{"test":"datum.g==='A-'","value":"#6fa3a3"},"value":"#b06464"}}},
   {"data":{"name":"bstat"},"transform":[{"filter":"datum.panel==='IL4'"}],"mark":{"type":"tick","orient":"horizontal","size":47,"thickness":1},
    "encoding":{"x":{"field":"g","type":"nominal","axis":null},"y":{"field":"med","type":"quantitative","axis":null},"color":{"condition":{"test":"datum.g==='A-'","value":"#74bcbc"},"value":"#e35d5d"}}},
   {"data":{"name":"bstat"},"transform":[{"filter":"datum.panel==='IL4'"}],"mark":{"type":"tick","orient":"horizontal","size":24,"thickness":1,"color":"#333"},
    "encoding":{"x":{"field":"g","type":"nominal","axis":null},"y":{"field":"lo","type":"quantitative","axis":null}}},
   {"data":{"name":"bstat"},"transform":[{"filter":"datum.panel==='IL4'"}],"mark":{"type":"tick","orient":"horizontal","size":24,"thickness":1,"color":"#333"},
    "encoding":{"x":{"field":"g","type":"nominal","axis":null},"y":{"field":"hi","type":"quantitative","axis":null}}},
   {"data":{"name":"bout"},"transform":[{"filter":"datum.panel==='IL4'"}],"mark":{"type":"point","shape":"M-1,0L1,0M0,-1L0,1","filled":false,"stroke":"#ff5050","strokeWidth":1,"size":64,"opacity":1},
    "encoding":{"x":{"field":"g","type":"nominal","axis":null},"y":{"field":"y","type":"quantitative","axis":null}}},
   {"data":{"name":"bpts"},"transform":[{"filter":"datum.panel==='IL4'"}],"mark":{"type":"circle","color":"#111","size":20,"opacity":1},
    "encoding":{"x":{"field":"g","type":"nominal","axis":null},"xOffset":{"field":"j","type":"quantitative","scale":{"domain":[-0.3935,0.3935],"nice":false,"zero":false}},"y":{"field":"y","type":"quantitative","axis":null}}},
   {"data":{"name":"blab"},"transform":[{"filter":"datum.panel==='IL4'"}],"mark":{"type":"text","align":"left","baseline":"alphabetic","fontSize":13,"fontWeight":"bold","color":"#222","dx":-47},
    "encoding":{"x":{"datum":"A-","type":"nominal","axis":null},"y":{"datum":125.9,"type":"quantitative","axis":null},"text":{"field":"name"}}},
   {"data":{"name":"blab"},"transform":[{"filter":"datum.panel==='IL4'"}],"mark":{"type":"text","align":"left","baseline":"alphabetic","fontSize":16,"color":"#111","dx":-10},
    "encoding":{"x":{"datum":"A-","type":"nominal","axis":null},"y":{"datum":125.9,"type":"quantitative","axis":null},"text":{"value":"("}}},
   {"data":{"name":"blab"},"transform":[{"filter":"datum.panel==='IL4'"}],"mark":{"type":"text","align":"left","baseline":"alphabetic","fontSize":16,"fontStyle":"italic","color":"#111","dx":-4.7},
    "encoding":{"x":{"datum":"A-","type":"nominal","axis":null},"y":{"datum":125.9,"type":"quantitative","axis":null},"text":{"value":"p"}}},
   {"data":{"name":"blab"},"transform":[{"filter":"datum.panel==='IL4'"}],"mark":{"type":"text","align":"left","baseline":"alphabetic","fontSize":16,"color":"#111","dx":8.6},
    "encoding":{"x":{"datum":"A-","type":"nominal","axis":null},"y":{"datum":125.9,"type":"quantitative","axis":null},"text":{"field":"pv"}}}
  ]}
 ]}
 ]},
{"title":{"text":"B","anchor":"start","font":"Roboto","fontSize":26,"fontWeight":"bold","color":"black","offset":0,"dx":8,"dy":22.8},
 "vconcat":[
{"title":{"text":"Baseline biomarker levels vs. yearly Aβ PET SUVR change","anchor":"start","font":"Roboto","fontSize":23,"fontWeight":"bold","color":"black","offset":20,"dx":60},
 "spacing":10,
 "vconcat":[
 {"spacing":55,"bounds":"flush","hconcat":[
  {"width":173,"height":185,"title":{"text":"pTau217","fontSize":14,"fontWeight":"bold","font":"Liberation Sans","color":"#1a1a1a","offset":3},
   "layer":[
    {"data":{"name":"sc"},"transform":[{"filter":"datum.p==='pTau217'"}],"mark":{"type":"circle","size":45,"opacity":1,"color":"#0000ff"},
     "encoding":{"x":{"field":"x","type":"quantitative","scale":{"domain":[-4.25,11.5],"nice":false,"zero":false},"axis":{"values":[0,5,10],"tickCount":12,"format":"d","labelOverlap":false,"title":"Yearly PiB Change (%)","titleFontSize":14,"titleFontWeight":"bold","titleColor":"#333","labelFontSize":15,"labelColor":"#333","domainColor":"#777","tickColor":"#777","tickSize":-3,"labelPadding":10,"titlePadding":5,"labelFlush":false}},
      "y":{"field":"y","type":"quantitative","scale":{"domain":[11.53,15],"nice":false,"zero":false},"axis":{"values":[12,12.5,13,13.5,14,14.5],"tickCount":12,"labelOverlap":false,"format":".1~f","title":"NPQ","titleFontSize":14,"titleFontWeight":"bold","titleColor":"#333","labelFontSize":15,"labelColor":"#333","domainColor":"#777","tickColor":"#777","tickSize":-3,"labelPadding":5,"titlePadding":-6.5}}}},
    {"data":{"name":"fit"},"transform":[{"filter":"datum.p==='pTau217'"}],"mark":{"type":"line","color":"#7e2f8e","strokeWidth":2.5},"encoding":{"x":{"field":"x","type":"quantitative"},"y":{"field":"y","type":"quantitative"}}},
    {"data":{"name":"st"},"transform":[{"filter":"datum.p==='pTau217'"}],"mark":{"type":"text","align":"left","baseline":"alphabetic","fontStyle":"italic","fontSize":16,"color":"black"},"encoding":{"x":{"datum":4.06,"type":"quantitative"},"y":{"datum":14.61,"type":"quantitative"},"text":{"field":"rho"}}},
    {"data":{"name":"st"},"transform":[{"filter":"datum.p==='pTau217'"}],"mark":{"type":"text","align":"left","baseline":"alphabetic","fontStyle":"italic","fontSize":16,"color":"black"},"encoding":{"x":{"datum":4.06,"type":"quantitative"},"y":{"datum":14.27,"type":"quantitative"},"text":{"value":"p"}}},
    {"data":{"name":"st"},"transform":[{"filter":"datum.p==='pTau217'"}],"mark":{"type":"text","align":"left","baseline":"alphabetic","fontSize":16,"color":"black","dx":13},"encoding":{"x":{"datum":4.06,"type":"quantitative"},"y":{"datum":14.27,"type":"quantitative"},"text":{"field":"pv"}}}
   ]},
  {"width":173,"height":185,"title":{"text":"CCL26","fontSize":14,"fontWeight":"bold","font":"Liberation Sans","color":"#1a1a1a","offset":3},
   "layer":[
    {"data":{"name":"sc"},"transform":[{"filter":"datum.p==='CCL26'"}],"mark":{"type":"circle","size":45,"opacity":1,"color":"#0000ff"},
     "encoding":{"x":{"field":"x","type":"quantitative","scale":{"domain":[-4.25,11.5],"nice":false,"zero":false},"axis":{"values":[0,5,10],"tickCount":12,"format":"d","labelOverlap":false,"title":"Yearly PiB Change (%)","titleFontSize":14,"titleFontWeight":"bold","titleColor":"#333","labelFontSize":15,"labelColor":"#333","domainColor":"#777","tickColor":"#777","tickSize":-3,"labelPadding":10,"titlePadding":5,"labelFlush":false}},
      "y":{"field":"y","type":"quantitative","scale":{"domain":[4.05,19.1],"nice":false,"zero":false},"axis":{"values":[5,10,15],"tickCount":12,"format":".1~f","labelOverlap":false,"title":"NPQ","titleFontSize":14,"titleFontWeight":"bold","titleColor":"#333","labelFontSize":15,"labelColor":"#333","domainColor":"#777","tickColor":"#777","tickSize":-3,"labelPadding":5,"titlePadding":6}}}},
    {"data":{"name":"fit"},"transform":[{"filter":"datum.p==='CCL26'"}],"mark":{"type":"line","color":"#7e2f8e","strokeWidth":2.5},"encoding":{"x":{"field":"x","type":"quantitative"},"y":{"field":"y","type":"quantitative"}}},
    {"data":{"name":"st"},"transform":[{"filter":"datum.p==='CCL26'"}],"mark":{"type":"text","align":"left","baseline":"alphabetic","fontStyle":"italic","fontSize":16,"color":"black"},"encoding":{"x":{"datum":1.73,"type":"quantitative"},"y":{"datum":17.55,"type":"quantitative"},"text":{"field":"rho"}}},
    {"data":{"name":"st"},"transform":[{"filter":"datum.p==='CCL26'"}],"mark":{"type":"text","align":"left","baseline":"alphabetic","fontStyle":"italic","fontSize":16,"color":"black"},"encoding":{"x":{"datum":1.73,"type":"quantitative"},"y":{"datum":16.03,"type":"quantitative"},"text":{"value":"p"}}},
    {"data":{"name":"st"},"transform":[{"filter":"datum.p==='CCL26'"}],"mark":{"type":"text","align":"left","baseline":"alphabetic","fontSize":16,"color":"black","dx":13},"encoding":{"x":{"datum":1.73,"type":"quantitative"},"y":{"datum":16.03,"type":"quantitative"},"text":{"field":"pv"}}}
   ]},
  {"width":173,"height":185,"title":{"text":"CCL13","fontSize":14,"fontWeight":"bold","font":"Liberation Sans","color":"#1a1a1a","offset":3},
   "layer":[
    {"data":{"name":"sc"},"transform":[{"filter":"datum.p==='CCL13'"}],"mark":{"type":"circle","size":45,"opacity":1,"color":"#0000ff"},
     "encoding":{"x":{"field":"x","type":"quantitative","scale":{"domain":[-4.25,11.5],"nice":false,"zero":false},"axis":{"values":[0,5,10],"tickCount":12,"format":"d","labelOverlap":false,"title":"Yearly PiB Change (%)","titleFontSize":14,"titleFontWeight":"bold","titleColor":"#333","labelFontSize":15,"labelColor":"#333","domainColor":"#777","tickColor":"#777","tickSize":-3,"labelPadding":10,"titlePadding":5,"labelFlush":false}},
      "y":{"field":"y","type":"quantitative","scale":{"domain":[11.72,17.47],"nice":false,"zero":false},"axis":{"values":[12,13,14,15,16,17],"tickCount":12,"format":".1~f","labelOverlap":false,"title":"NPQ","titleFontSize":14,"titleFontWeight":"bold","titleColor":"#333","labelFontSize":15,"labelColor":"#333","domainColor":"#777","tickColor":"#777","tickSize":-3,"labelPadding":5,"titlePadding":6}}}},
    {"data":{"name":"fit"},"transform":[{"filter":"datum.p==='CCL13'"}],"mark":{"type":"line","color":"#7e2f8e","strokeWidth":2.5},"encoding":{"x":{"field":"x","type":"quantitative"},"y":{"field":"y","type":"quantitative"}}},
    {"data":{"name":"st"},"transform":[{"filter":"datum.p==='CCL13'"}],"mark":{"type":"text","align":"left","baseline":"alphabetic","fontStyle":"italic","fontSize":16,"color":"black"},"encoding":{"x":{"datum":0.22,"type":"quantitative"},"y":{"datum":16.92,"type":"quantitative"},"text":{"field":"rho"}}},
    {"data":{"name":"st"},"transform":[{"filter":"datum.p==='CCL13'"}],"mark":{"type":"text","align":"left","baseline":"alphabetic","fontStyle":"italic","fontSize":16,"color":"black"},"encoding":{"x":{"datum":0.22,"type":"quantitative"},"y":{"datum":16.33,"type":"quantitative"},"text":{"value":"p"}}},
    {"data":{"name":"st"},"transform":[{"filter":"datum.p==='CCL13'"}],"mark":{"type":"text","align":"left","baseline":"alphabetic","fontSize":16,"color":"black","dx":13},"encoding":{"x":{"datum":0.22,"type":"quantitative"},"y":{"datum":16.33,"type":"quantitative"},"text":{"field":"pv"}}}
   ]}
 ]},
 {"spacing":55,"bounds":"flush","hconcat":[
  {"width":173,"height":182,"title":{"text":"CCL17","fontSize":14,"fontWeight":"bold","font":"Liberation Sans","color":"#1a1a1a","offset":3},
   "layer":[
    {"data":{"name":"sc"},"transform":[{"filter":"datum.p==='CCL17'"}],"mark":{"type":"circle","size":45,"opacity":1,"color":"#0000ff"},
     "encoding":{"x":{"field":"x","type":"quantitative","scale":{"domain":[-4.25,11.5],"nice":false,"zero":false},"axis":{"values":[0,5,10],"tickCount":12,"format":"d","labelOverlap":false,"title":"Yearly PiB Change (%)","titleFontSize":14,"titleFontWeight":"bold","titleColor":"#333","labelFontSize":15,"labelColor":"#333","domainColor":"#777","tickColor":"#777","tickSize":-3,"labelPadding":10,"titlePadding":5,"labelFlush":false}},
      "y":{"field":"y","type":"quantitative","scale":{"domain":[10.45,22.17],"nice":false,"zero":false},"axis":{"values":[12,14,16,18,20,22],"tickCount":12,"format":".1~f","labelOverlap":false,"title":"NPQ","titleFontSize":14,"titleFontWeight":"bold","titleColor":"#333","labelFontSize":15,"labelColor":"#333","domainColor":"#777","tickColor":"#777","tickSize":-3,"labelPadding":5,"titlePadding":6}}}},
    {"data":{"name":"fit"},"transform":[{"filter":"datum.p==='CCL17'"}],"mark":{"type":"line","color":"#7e2f8e","strokeWidth":2.5},"encoding":{"x":{"field":"x","type":"quantitative"},"y":{"field":"y","type":"quantitative"}}},
    {"data":{"name":"st"},"transform":[{"filter":"datum.p==='CCL17'"}],"mark":{"type":"text","align":"left","baseline":"alphabetic","fontStyle":"italic","fontSize":16,"color":"black"},"encoding":{"x":{"datum":2.94,"type":"quantitative"},"y":{"datum":20.77,"type":"quantitative"},"text":{"field":"rho"}}},
    {"data":{"name":"st"},"transform":[{"filter":"datum.p==='CCL17'"}],"mark":{"type":"text","align":"left","baseline":"alphabetic","fontStyle":"italic","fontSize":16,"color":"black"},"encoding":{"x":{"datum":2.94,"type":"quantitative"},"y":{"datum":19.64,"type":"quantitative"},"text":{"value":"p"}}},
    {"data":{"name":"st"},"transform":[{"filter":"datum.p==='CCL17'"}],"mark":{"type":"text","align":"left","baseline":"alphabetic","fontSize":16,"color":"black","dx":13},"encoding":{"x":{"datum":2.94,"type":"quantitative"},"y":{"datum":19.64,"type":"quantitative"},"text":{"field":"pv"}}}
   ]},
  {"width":173,"height":182,"title":{"text":"CXCL8","fontSize":14,"fontWeight":"bold","font":"Liberation Sans","color":"#1a1a1a","offset":3},
   "layer":[
    {"data":{"name":"sc"},"transform":[{"filter":"datum.p==='CXCL8'"}],"mark":{"type":"circle","size":45,"opacity":1,"color":"#0000ff"},
     "encoding":{"x":{"field":"x","type":"quantitative","scale":{"domain":[-4.25,11.5],"nice":false,"zero":false},"axis":{"values":[0,5,10],"tickCount":12,"format":"d","labelOverlap":false,"title":"Yearly PiB Change (%)","titleFontSize":14,"titleFontWeight":"bold","titleColor":"#333","labelFontSize":15,"labelColor":"#333","domainColor":"#777","tickColor":"#777","tickSize":-3,"labelPadding":10,"titlePadding":5,"labelFlush":false}},
      "y":{"field":"y","type":"quantitative","scale":{"domain":[9.23,14.09],"nice":false,"zero":false},"axis":{"values":[10,11,12,13,14],"tickCount":12,"format":".1~f","labelOverlap":false,"title":"NPQ","titleFontSize":14,"titleFontWeight":"bold","titleColor":"#333","labelFontSize":15,"labelColor":"#333","domainColor":"#777","tickColor":"#777","tickSize":-3,"labelPadding":5,"titlePadding":6}}}},
    {"data":{"name":"fit"},"transform":[{"filter":"datum.p==='CXCL8'"}],"mark":{"type":"line","color":"#7e2f8e","strokeWidth":2.5},"encoding":{"x":{"field":"x","type":"quantitative"},"y":{"field":"y","type":"quantitative"}}},
    {"data":{"name":"st"},"transform":[{"filter":"datum.p==='CXCL8'"}],"mark":{"type":"text","align":"left","baseline":"alphabetic","fontStyle":"italic","fontSize":16,"color":"black"},"encoding":{"x":{"datum":2.64,"type":"quantitative"},"y":{"datum":13.69,"type":"quantitative"},"text":{"field":"rho"}}},
    {"data":{"name":"st"},"transform":[{"filter":"datum.p==='CXCL8'"}],"mark":{"type":"text","align":"left","baseline":"alphabetic","fontStyle":"italic","fontSize":16,"color":"black"},"encoding":{"x":{"datum":2.64,"type":"quantitative"},"y":{"datum":13.2,"type":"quantitative"},"text":{"value":"p"}}},
    {"data":{"name":"st"},"transform":[{"filter":"datum.p==='CXCL8'"}],"mark":{"type":"text","align":"left","baseline":"alphabetic","fontSize":16,"color":"black","dx":13},"encoding":{"x":{"datum":2.64,"type":"quantitative"},"y":{"datum":13.2,"type":"quantitative"},"text":{"field":"pv"}}}
   ]},
  {"width":173,"height":182,"title":{"text":"CXCL1","fontSize":14,"fontWeight":"bold","font":"Liberation Sans","color":"#1a1a1a","offset":3},
   "layer":[
    {"data":{"name":"sc"},"transform":[{"filter":"datum.p==='CXCL1'"}],"mark":{"type":"circle","size":45,"opacity":1,"color":"#0000ff"},
     "encoding":{"x":{"field":"x","type":"quantitative","scale":{"domain":[-4.25,11.5],"nice":false,"zero":false},"axis":{"values":[0,5,10],"tickCount":12,"format":"d","labelOverlap":false,"title":"Yearly PiB Change (%)","titleFontSize":14,"titleFontWeight":"bold","titleColor":"#333","labelFontSize":15,"labelColor":"#333","domainColor":"#777","tickColor":"#777","tickSize":-3,"labelPadding":10,"titlePadding":5,"labelFlush":false}},
      "y":{"field":"y","type":"quantitative","scale":{"domain":[10.2,18.78],"nice":false,"zero":false},"axis":{"values":[12,14,16,18],"tickCount":12,"format":".1~f","labelOverlap":false,"title":"NPQ","titleFontSize":14,"titleFontWeight":"bold","titleColor":"#333","labelFontSize":15,"labelColor":"#333","domainColor":"#777","tickColor":"#777","tickSize":-3,"labelPadding":5,"titlePadding":6}}}},
    {"data":{"name":"fit"},"transform":[{"filter":"datum.p==='CXCL1'"}],"mark":{"type":"line","color":"#7e2f8e","strokeWidth":2.5},"encoding":{"x":{"field":"x","type":"quantitative"},"y":{"field":"y","type":"quantitative"}}},
    {"data":{"name":"st"},"transform":[{"filter":"datum.p==='CXCL1'"}],"mark":{"type":"text","align":"left","baseline":"alphabetic","fontStyle":"italic","fontSize":16,"color":"black"},"encoding":{"x":{"datum":0.61,"type":"quantitative"},"y":{"datum":18.03,"type":"quantitative"},"text":{"field":"rho"}}},
    {"data":{"name":"st"},"transform":[{"filter":"datum.p==='CXCL1'"}],"mark":{"type":"text","align":"left","baseline":"alphabetic","fontStyle":"italic","fontSize":16,"color":"black"},"encoding":{"x":{"datum":0.61,"type":"quantitative"},"y":{"datum":17.17,"type":"quantitative"},"text":{"value":"p"}}},
    {"data":{"name":"st"},"transform":[{"filter":"datum.p==='CXCL1'"}],"mark":{"type":"text","align":"left","baseline":"alphabetic","fontSize":16,"color":"black","dx":13},"encoding":{"x":{"datum":0.61,"type":"quantitative"},"y":{"datum":17.17,"type":"quantitative"},"text":{"field":"pv"}}}
   ]}
 ]}
 ]}
 ]}
],
"spacing":32
}
